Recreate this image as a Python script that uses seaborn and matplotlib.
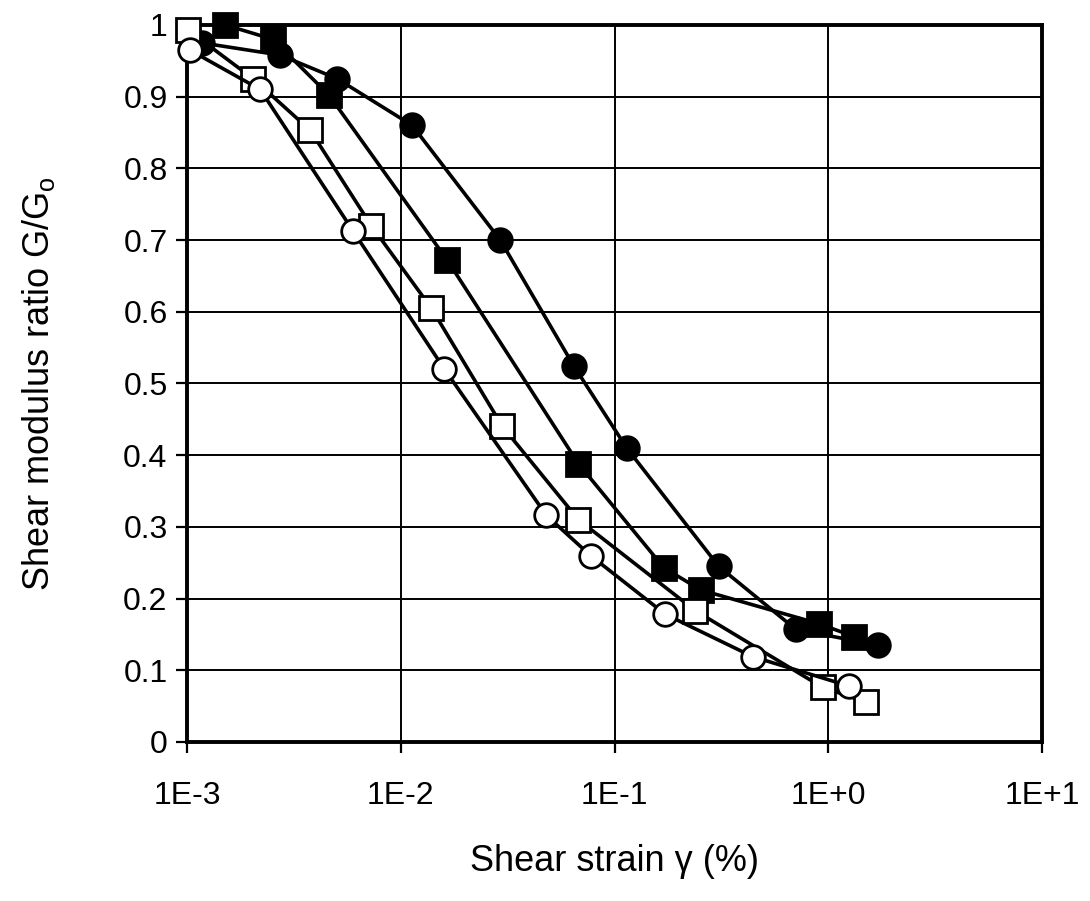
import pandas as pd
import numpy as np
import seaborn as sns
import matplotlib.pyplot as plt

# Shear modulus degradation curves
strain_filled_circle = [1.17e-3, 2.73e-3, 5.04e-3, 1.13e-2, 2.92e-2, 6.43e-2, 0.114, 0.307, 0.705, 1.71]
ratio_filled_circle = [0.975, 0.958, 0.925, 0.86, 0.70, 0.525, 0.41, 0.245, 0.157, 0.135]

strain_filled_square = [1.51e-3, 2.52e-3, 4.62e-3, 1.65e-2, 6.78e-2, 0.170, 0.253, 0.903, 1.32]
ratio_filled_square = [1.0, 0.98, 0.902, 0.672, 0.388, 0.243, 0.212, 0.165, 0.147]

strain_open_circle = [1.03e-3, 2.20e-3, 6.0e-3, 1.60e-2, 4.80e-2, 7.72e-2, 0.173, 0.443, 1.25]
ratio_open_circle = [0.965, 0.91, 0.712, 0.52, 0.316, 0.26, 0.178, 0.119, 0.078]

strain_open_square = [1.01e-3, 2.04e-3, 3.77e-3, 7.28e-3, 1.39e-2, 2.99e-2, 6.78e-2, 0.239, 0.942, 1.50]
ratio_open_square = [0.993, 0.925, 0.853, 0.72, 0.605, 0.44, 0.31, 0.183, 0.076, 0.056]

x_ticks = [1e-3, 1e-2, 1e-1, 1e0, 1e1]
x_tick_labels = ['1E-3', '1E-2', '1E-1', '1E+0', '1E+1']
y_ticks = [0, 0.1, 0.2, 0.3, 0.4, 0.5, 0.6, 0.7, 0.8, 0.9, 1.0]
y_tick_labels = ['0', '0.1', '0.2', '0.3', '0.4', '0.5', '0.6', '0.7', '0.8', '0.9', '1']

sns.set_style('white')
plt.rcParams['font.family'] = ['Liberation Sans', 'DejaVu Sans']
plt.rcParams['text.color'] = 'black'
plt.rcParams['axes.labelcolor'] = 'black'
plt.rcParams['xtick.color'] = 'black'
plt.rcParams['ytick.color'] = 'black'

fig = plt.figure(figsize=(10.9, 9.01), dpi=100)
ax = fig.add_axes([0.1716, 0.1765, 0.7844, 0.7958])

series = [
    (strain_filled_circle, ratio_filled_circle, 'o', 'black'),
    (strain_filled_square, ratio_filled_square, 's', 'black'),
    (strain_open_square, ratio_open_square, 's', 'white'),
    (strain_open_circle, ratio_open_circle, 'o', 'white'),
]
for i, (xs, ys, mk, fc) in enumerate(series):
    df = pd.DataFrame({'strain': xs, 'ratio': ys})
    sns.lineplot(data=df, x='strain', y='ratio', ax=ax, color='black',
                 linewidth=2.6, marker=mk, markersize=17 if mk == 'o' else 17,
                 markerfacecolor=fc, markeredgecolor='black',
                 markeredgewidth=2.0, zorder=3 + i, clip_on=False)

ax.set_xscale('log')
ax.set_xlim(1e-3, 1e1)
ax.set_ylim(0, 1)
ax.set_xticks(x_ticks)
ax.set_xticklabels(x_tick_labels)
ax.minorticks_off()
ax.set_yticks(y_ticks)
ax.set_yticklabels(y_tick_labels)
ax.tick_params(axis='both', labelsize=23, direction='out', length=8,
               width=1.6, color='black', bottom=True, left=True)
ax.tick_params(axis='x', pad=20)
ax.tick_params(axis='y', pad=6)

ax.grid(True, color='black', linewidth=1.4)
ax.set_axisbelow(True)
for sp in ax.spines.values():
    sp.set_color('black')
    sp.set_linewidth(2.8)

ax.set_xlabel('Shear strain \u03b3 (%)', fontsize=26, labelpad=24)
ax.set_ylabel('Shear modulus ratio G/G$_\\mathregular{o}$', fontsize=26, labelpad=48)

fig.savefig('out.png', dpi=100, facecolor='white')
